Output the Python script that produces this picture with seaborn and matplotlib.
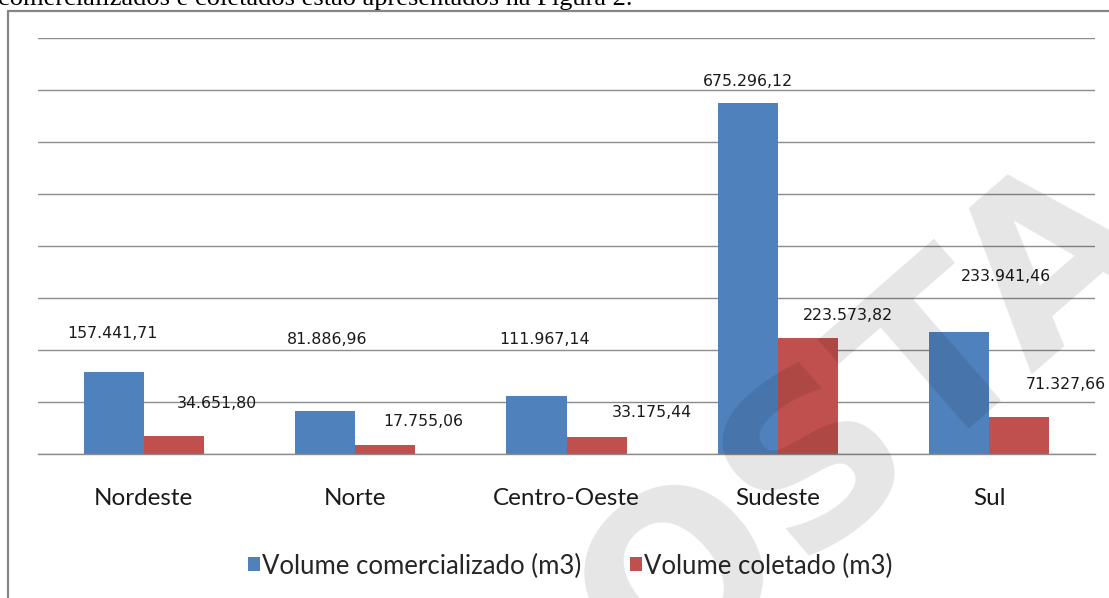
import numpy as np
import pandas as pd
import matplotlib
matplotlib.use("Agg")
import matplotlib.pyplot as plt
from matplotlib.lines import Line2D
import seaborn as sns

# ---------------- data ----------------
regioes = ["Nordeste", "Norte", "Centro-Oeste", "Sudeste", "Sul"]
series_nomes = ["Volume comercializado (m3)", "Volume coletado (m3)"]
vol_comercializado = [157441.71, 81886.96, 111967.14, 675296.12, 233941.46]
vol_coletado = [34651.80, 17755.06, 33175.44, 223573.82, 71327.66]
cores = ["#4F81BD", "#C0504D"]

# label placement (offsets from bar top: x in category units, y in data units)
lab_dx = [[-0.005, 0.01, 0.04, 0.0, 0.22], [0.205, 0.18, 0.26, 0.19, 0.22]]
lab_dy = [[75000, 139000, 109000, 42000, 106500], [63400, 43800, 45700, 43700, 61400]]

df = pd.DataFrame({
    "Região": regioes * 2,
    "Série": [series_nomes[0]] * len(regioes) + [series_nomes[1]] * len(regioes),
    "Volume": vol_comercializado + vol_coletado,
})

def br(v):
    s = f"{v:,.2f}"
    return s.replace(",", "X").replace(".", ",").replace("X", ".")

sns.set_style("white")
plt.rcParams["font.family"] = ["DejaVu Sans"]

W, H = 1109, 598
fig = plt.figure(figsize=(W / 100, H / 100), dpi=100)
ax = fig.add_axes([38 / W, 1 - 454 / H, (1095 - 38) / W, 416 / H])

sns.barplot(data=df, x="Região", y="Volume", hue="Série", order=regioes,
            hue_order=series_nomes, palette=cores, width=0.568, saturation=1,
            errorbar=None, linewidth=0, ax=ax)

ax.set_xlim(-0.5, len(regioes) - 0.5)
ax.set_ylim(0, 800000)
ax.set_yticks(np.arange(0, 800001, 100000))
ax.set_yticklabels([])
ax.tick_params(axis="y", length=0)
ax.yaxis.grid(True, color="#8c8c8c", lw=1.0)
ax.xaxis.grid(False)
ax.set_axisbelow(True)
for s in ["left", "right", "top"]:
    ax.spines[s].set_visible(False)
ax.spines["bottom"].set_color("#8c8c8c")
ax.spines["bottom"].set_linewidth(1.0)
ax.set_xlabel("")
ax.set_ylabel("")

ax.set_xticks(range(len(regioes)))
ax.set_xticklabels(regioes, fontfamily="Lato", fontsize=17.5, color="#1a1a1a")
ax.set_xticks(np.arange(-0.5, len(regioes), 1), minor=True)
ax.tick_params(axis="x", which="major", length=0, pad=24.5)
ax.tick_params(axis="x", which="minor", length=4, width=1, color="#8c8c8c", direction="out")

# value labels
for k, cont in enumerate(ax.containers):
    for i, bar in enumerate(cont):
        xc = bar.get_x() + bar.get_width() / 2 + lab_dx[k][i]
        h = bar.get_height()
        ax.text(xc, h + lab_dy[k][i], br(h), ha="center", va="center",
                fontsize=11.3, color="#1a1a1a", fontfamily="DejaVu Sans", clip_on=False)

handles, labels = ax.get_legend_handles_labels()
if ax.get_legend() is not None:
    ax.get_legend().remove()
fig.legend(handles, labels, loc="center", bbox_to_anchor=(570 / W, 1 - 566 / H),
           ncol=2, frameon=False, handlelength=0.47, handleheight=0.47,
           handletextpad=0.08, columnspacing=1.9,
           prop={"family": "Lato", "size": 18.5})

# frame of the embedded chart
fig.add_artist(Line2D([8 / W, 8 / W], [1 - 11 / H, 0], transform=fig.transFigure,
                      color="#868686", lw=1.6))
fig.add_artist(Line2D([8 / W, 1], [1 - 11 / H, 1 - 11 / H], transform=fig.transFigure,
                      color="#868686", lw=1.6))

# clipped line of document text above
fig.text(-2 / W, 1 - 5 / H, "comercializados e coletados estão apresentados na Figura 2.",
         fontfamily="Liberation Serif", fontsize=19, va="baseline", ha="left", color="black")

# watermark
fig.text(866 / W, 1 - 425 / H, "OSTA", rotation=41, fontsize=165, fontweight="bold",
         fontfamily="DejaVu Sans", color="black", alpha=0.1, ha="center", va="center",
         rotation_mode="anchor", zorder=10)

fig.savefig("out.png", dpi=100)
